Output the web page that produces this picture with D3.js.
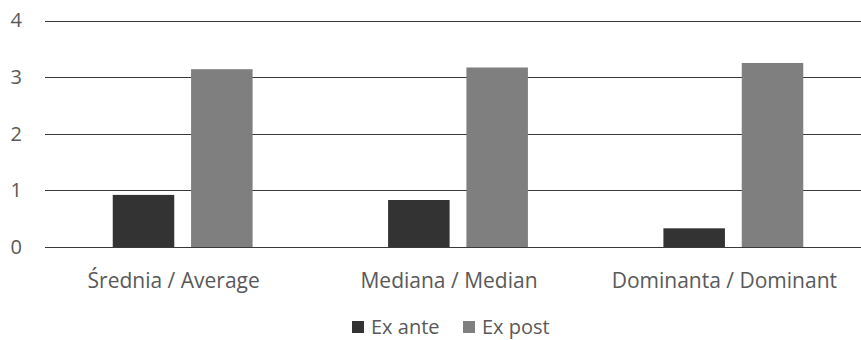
<!DOCTYPE html>
<html>
<head>
<meta charset="utf-8">
<script src="https://cdn.jsdelivr.net/npm/d3@7"></script>
<style>
  html, body { margin: 0; padding: 0; background: #fff; }
  svg { display: block; }
  text { font-family: "Open Sans", sans-serif; fill: #595959; }
</style>
</head>
<body>
<svg id="chart" width="861" height="340"></svg>
<script>
// Categories, series and axis ticks
const categories = ["Średnia / Average", "Mediana / Median", "Dominanta / Dominant"];
const seriesNames = ["Ex ante", "Ex post"];
const exAnte = [0.92, 0.83, 0.33];
const exPost = [3.14, 3.17, 3.25];
const yTicks = [0, 1, 2, 3, 4];
const seriesColors = ["#333333", "#7f7f7f"];

const W = 861, H = 340;
const plot = { left: 45, right: 871, top: 20.5, bottom: 247 };

const svg = d3.select("#chart");

const x = d3.scaleBand()
  .domain(categories)
  .range([plot.left, plot.right])
  .paddingInner(0)
  .paddingOuter(0);

const xSeries = d3.scaleBand()
  .domain(seriesNames)
  .range([0, x.bandwidth()])
  .paddingInner(0.2146)
  .paddingOuter(0.865);

const y = d3.scaleLinear()
  .domain([0, 4])
  .range([plot.bottom, plot.top]);

// Horizontal gridlines
svg.append("g")
  .selectAll("line")
  .data(yTicks)
  .join("line")
  .attr("x1", plot.left)
  .attr("x2", W)
  .attr("y1", d => Math.round(y(d)) + 0.5)
  .attr("y2", d => Math.round(y(d)) + 0.5)
  .attr("stroke", "#3a3a3a")
  .attr("stroke-width", 1);

// Y axis labels
const yAxis = d3.axisLeft(y).tickValues(yTicks).tickSize(0).tickPadding(0).tickFormat(d3.format("d"));
const yg = svg.append("g").attr("transform", "translate(22,0)").call(yAxis);
yg.select(".domain").remove();
yg.selectAll("text")
  .attr("fill", "#595959")
  .style("font-size", "20px")
  .style("font-family", "'Open Sans', sans-serif");

// Bars
const rows = categories.map((c, i) => ({ cat: c, values: [exAnte[i], exPost[i]] }));
const groups = svg.append("g")
  .selectAll("g")
  .data(rows)
  .join("g")
  .attr("transform", d => `translate(${x(d.cat)},0)`);

groups.selectAll("rect")
  .data(d => d.values.map((v, j) => ({ name: seriesNames[j], value: v, color: seriesColors[j] })))
  .join("rect")
  .attr("x", d => xSeries(d.name))
  .attr("width", xSeries.bandwidth())
  .attr("y", d => y(d.value))
  .attr("height", d => y(0) - y(d.value))
  .attr("fill", d => d.color);

// Category labels
const xAxis = d3.axisBottom(x).tickSize(0).tickPadding(0);
const xg = svg.append("g").attr("transform", "translate(-9,288)").call(xAxis);
xg.select(".domain").remove();
xg.selectAll("text")
  .attr("fill", "#595959")
  .attr("dy", "0")
  .style("font-size", "21px")
  .style("font-family", "'Open Sans', sans-serif");

// Legend
const legend = svg.append("g").attr("transform", "translate(352,321)");
const items = legend.selectAll("g")
  .data(seriesNames)
  .join("g")
  .attr("transform", (d, i) => `translate(${i * 111},0)`);
items.append("rect")
  .attr("width", 12).attr("height", 12)
  .attr("y", 0)
  .attr("fill", (d, i) => seriesColors[i]);
items.append("text")
  .attr("x", 19)
  .attr("y", 13)
  .style("font-size", "20px")
  .text(d => d);
</script>
</body>
</html>
